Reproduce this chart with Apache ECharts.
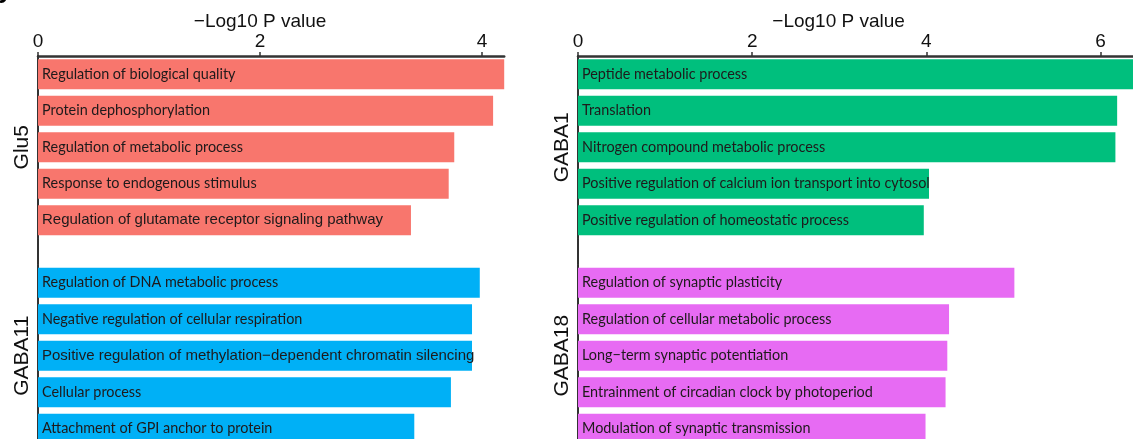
<!DOCTYPE html>
<html>
<head>
<meta charset="utf-8">
<script src="https://cdn.jsdelivr.net/npm/echarts@6/dist/echarts.min.js"></script>
<style>
  html, body { margin: 0; padding: 0; background: #ffffff; }
  #chart { width: 1133px; height: 439px; }
</style>
</head>
<body>
<div id="chart"></div>
<script>
// GO term enrichment per cluster, values are −log10 P
const glu5Terms = [
  'Regulation of biological quality',
  'Protein dephosphorylation',
  'Regulation of metabolic process',
  'Response to endogenous stimulus',
  'Regulation of glutamate receptor signaling pathway'
];
const glu5Values = [4.20, 4.10, 3.75, 3.70, 3.36];

const gaba11Terms = [
  'Regulation of DNA metabolic process',
  'Negative regulation of cellular respiration',
  'Positive regulation of methylation\u2212dependent chromatin silencing',
  'Cellular process',
  'Attachment of GPI anchor to protein'
];
const gaba11Values = [3.98, 3.91, 3.91, 3.72, 3.39];

const gaba1Terms = [
  'Peptide metabolic process',
  'Translation',
  'Nitrogen compound metabolic process',
  'Positive regulation of calcium ion transport into cytosol',
  'Positive regulation of homeostatic process'
];
const gaba1Values = [6.50, 6.19, 6.17, 4.03, 3.97];

const gaba18Terms = [
  'Regulation of synaptic plasticity',
  'Regulation of cellular metabolic process',
  'Long\u2212term synaptic potentiation',
  'Entrainment of circadian clock by photoperiod',
  'Modulation of synaptic transmission'
];
const gaba18Values = [5.01, 4.26, 4.24, 4.22, 3.99];

const leftTicks = [0, 2, 4];
const rightTicks = [0, 2, 4, 6];
const leftAxisMax = 4.2;
const rightAxisMax = 6.5;
const axisTitle = '\u2212Log10 P value';

// ---- styling / layout ----
const colors = { glu5: '#F8766D', gaba11: '#00B0F6', gaba1: '#00BF7D', gaba18: '#E76BF3' };
const labelFont = 'Lato';
const plainFontTerms = new Set([
  'Regulation of glutamate receptor signaling pathway',
  'Positive regulation of methylation\u2212dependent chromatin silencing'
]);
const PITCH = 36.5;
const PANEL_H = PITCH * 5;
const TOP_1 = 56;
const TOP_2 = 264.5;
const LEFT_X = 38, LEFT_PX = 111;
const RIGHT_X = 578, RIGHT_PX = 87.1;
const AXIS_COLOR = '#333333';

const panels = [
  { name: 'Glu5',   terms: glu5Terms,   values: glu5Values,   color: colors.glu5,   x: LEFT_X,  top: TOP_1, w: leftAxisMax * LEFT_PX,   max: leftAxisMax,  ticks: leftTicks,  head: true },
  { name: 'GABA11', terms: gaba11Terms, values: gaba11Values, color: colors.gaba11, x: LEFT_X,  top: TOP_2, w: leftAxisMax * LEFT_PX,   max: leftAxisMax,  ticks: leftTicks,  head: false },
  { name: 'GABA1',  terms: gaba1Terms,  values: gaba1Values,  color: colors.gaba1,  x: RIGHT_X, top: TOP_1, w: rightAxisMax * RIGHT_PX, max: rightAxisMax, ticks: rightTicks, head: true },
  { name: 'GABA18', terms: gaba18Terms, values: gaba18Values, color: colors.gaba18, x: RIGHT_X, top: TOP_2, w: rightAxisMax * RIGHT_PX, max: rightAxisMax, ticks: rightTicks, head: false }
];

const grid = panels.map(p => ({
  left: p.x, top: p.top, width: p.w, height: PANEL_H,
  outerBoundsMode: 'none'
}));

const xAxis = panels.map((p, i) => ({
  gridIndex: i,
  type: 'value',
  position: 'top',
  min: 0,
  max: p.max,
  show: p.head,
  name: p.head ? axisTitle : '',
  nameLocation: 'middle',
  nameGap: 25,
  nameTextStyle: { fontSize: 19, color: '#111111', fontFamily: 'Liberation Sans', padding: [0, p.x === LEFT_X ? 22 : 45, 0, 0] },
  axisLine: { show: true, lineStyle: { color: AXIS_COLOR, width: 2.5 } },
  axisTick: { show: true, length: 4, customValues: p.ticks, lineStyle: { color: AXIS_COLOR, width: 1.5 } },
  axisLabel: { show: true, customValues: p.ticks, margin: 5, fontSize: 19, color: '#111111', fontFamily: 'Liberation Sans' },
  splitLine: { show: false }
}));

const yAxis = panels.map((p, i) => ({
  gridIndex: i,
  type: 'category',
  data: p.terms,
  inverse: true,
  name: p.name,
  nameLocation: 'middle',
  nameRotate: 90,
  nameGap: 5,
  nameTextStyle: { fontSize: 21, color: '#111111', fontFamily: 'Liberation Sans' },
  axisLine: { show: true, lineStyle: { color: AXIS_COLOR, width: 2 } },
  axisTick: { show: false },
  axisLabel: { show: false },
  splitLine: { show: false }
}));

const series = panels.map((p, i) => ({
  type: 'bar',
  xAxisIndex: i,
  yAxisIndex: i,
  barWidth: 30,
  itemStyle: { color: p.color },
  label: {
    show: true,
    position: 'insideLeft',
    distance: 4,
    formatter: '{b}',
    color: '#1E1A1B',
    fontSize: 14.4,
    fontFamily: labelFont
  },
  data: p.values.map((v, k) => plainFontTerms.has(p.terms[k])
    ? { value: v, label: { fontFamily: 'Liberation Sans', fontSize: 15 } }
    : v)
}));

// join the y axis lines across the space between stacked panels
const bridge = x => ({
  type: 'line',
  shape: { x1: x, y1: TOP_1 + PANEL_H, x2: x, y2: TOP_2 },
  style: { stroke: AXIS_COLOR, lineWidth: 2 },
  silent: true
});

const chart = echarts.init(document.getElementById('chart'), null, { renderer: 'canvas' });
chart.setOption({
  animation: false,
  backgroundColor: '#ffffff',
  grid, xAxis, yAxis, series,
  graphic: [
    bridge(LEFT_X), bridge(RIGHT_X),
    { type: 'text', left: -9, top: -19, style: { text: 'b', font: 'bold 28px "Liberation Sans"', fill: '#000000' }, silent: true }
  ]
});
</script>
</body>
</html>
